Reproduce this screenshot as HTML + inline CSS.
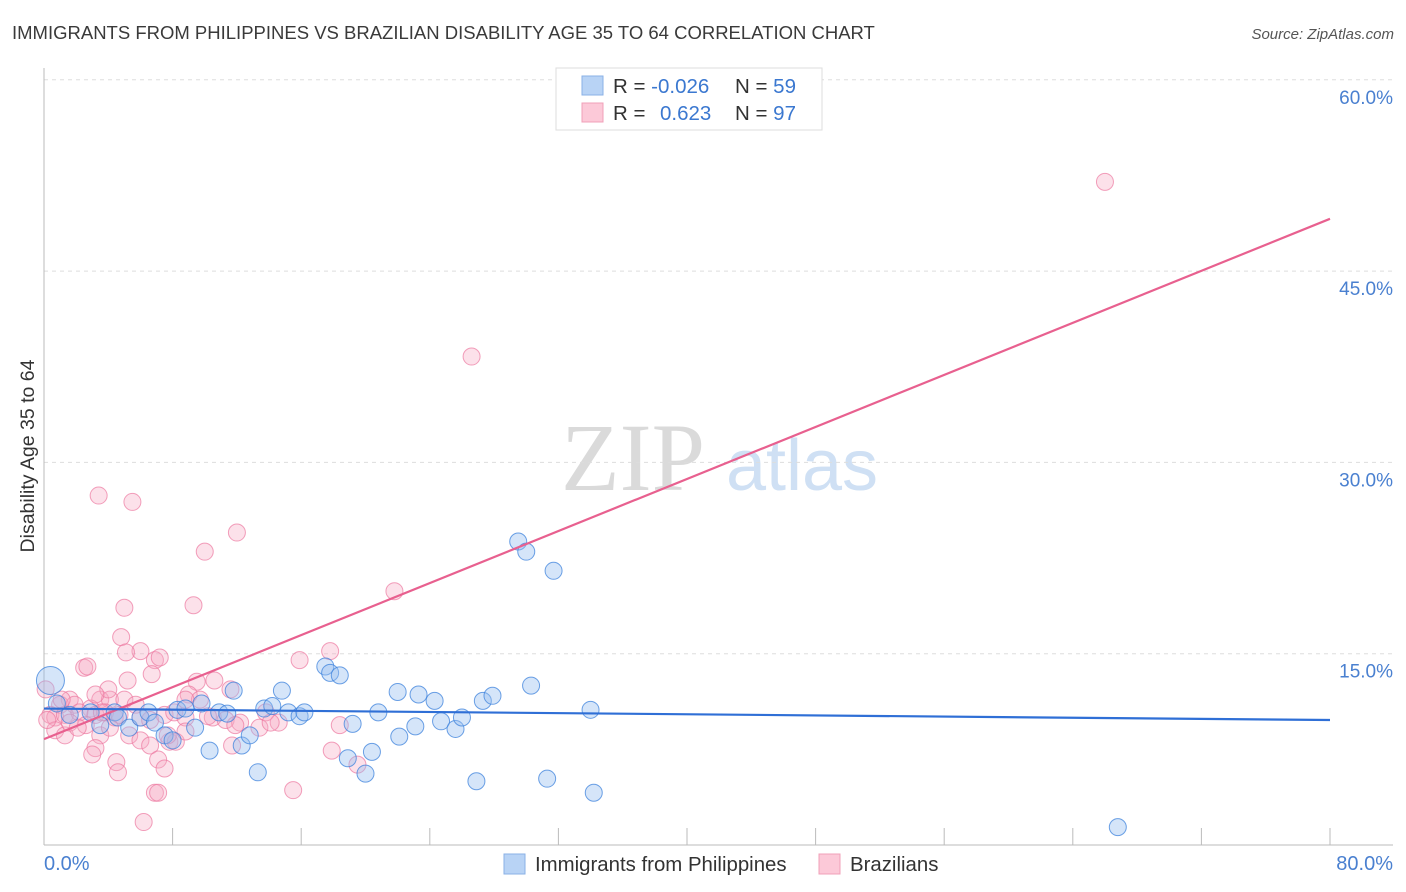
<!DOCTYPE html>
<html><head><meta charset="utf-8"><style>
body{margin:0;background:#fff;font-family:"Liberation Sans",sans-serif}
svg{display:block}
</style></head><body>
<svg id="chart" width="1406" height="892">
<text x="12" y="39" font-size="18.5" fill="#3a3a3a">IMMIGRANTS FROM PHILIPPINES VS BRAZILIAN DISABILITY AGE 35 TO 64 CORRELATION CHART</text>
<text x="1394" y="39" font-size="15" fill="#555" font-style="italic" text-anchor="end">Source: ZipAtlas.com</text>
<g>
<text x="633" y="490" font-size="96" fill="#dadada" font-family="Liberation Serif,serif" text-anchor="middle">ZIP</text>
<text x="802" y="490" font-size="72" fill="#cfe0f4" text-anchor="middle">atlas</text>
</g>
<g id="grid"></g>
<g id="axes"></g>
<g id="pts"></g>
<g id="lines"></g>
<text transform="translate(34,456) rotate(-90)" font-size="19.5" fill="#333" text-anchor="middle">Disability Age 35 to 64</text>
<text x="44" y="870" font-size="20" fill="#4a80d0">0.0%</text>
<text x="1393" y="870" font-size="20" fill="#4a80d0" text-anchor="end">80.0%</text>
<g>
<rect x="556" y="68" width="266" height="62" fill="#fff" stroke="#ddd"/>
<rect x="582" y="76" width="21" height="19" fill="#b8d3f5" stroke="#8ab0e6"/>
<rect x="582" y="103" width="21" height="19" fill="#fcc9d8" stroke="#f0a0b8"/>
<text x="613" y="93" font-size="20.5" fill="#333">R = <tspan fill="#3b78d0">-0.026</tspan></text>
<text x="735" y="93" font-size="20.5" fill="#333">N = <tspan fill="#3b78d0">59</tspan></text>
<text x="613" y="120" font-size="20.5" fill="#333">R = </text>
<text x="660" y="120" font-size="20.5" fill="#3b78d0">0.623</text>
<text x="735" y="120" font-size="20.5" fill="#333">N = <tspan fill="#3b78d0">97</tspan></text>
</g>
<g>
<rect x="504" y="854" width="21" height="20" fill="#b8d3f5" stroke="#8ab0e6"/>
<text x="535" y="871" font-size="20.4" fill="#333">Immigrants from Philippines</text>
<rect x="819" y="854" width="21" height="20" fill="#fcc9d8" stroke="#f0a0b8"/>
<text x="850" y="871" font-size="20.4" fill="#333">Brazilians</text>
</g>
</svg>
<script>
const yTicks=[15,30,45,60];
const yTickLabels=["15.0%","30.0%","45.0%","60.0%"];
const xTicks=[0,8,16,24,32,40,48,56,64,72,80];
const blueX=[0.4,0.8,1.6,2.9,3.5,4.4,4.6,5.3,6.0,6.5,6.9,7.5,8.0,8.3,8.8,9.4,9.8,10.3,10.9,11.4,11.8,12.3,12.8,13.3,13.7,14.2,14.8,15.2,15.9,16.2,17.5,17.8,18.4,19.2,18.9,20.0,20.4,20.8,22.1,22.0,23.1,23.3,24.3,24.7,25.6,26.0,26.9,27.3,27.9,29.5,30.0,30.3,31.3,31.7,34.0,34.2,66.8];
const blueY=[12.9,11.1,10.2,10.4,9.4,10.4,10.0,9.2,10.0,10.4,9.6,8.6,8.2,10.6,10.7,9.2,11.1,7.4,10.4,10.3,12.1,7.8,8.6,5.7,10.7,10.9,12.1,10.4,10.1,10.4,14.0,13.5,13.3,9.5,6.8,5.6,7.3,10.4,8.5,12.0,9.3,11.8,11.3,9.7,9.1,10.0,5.0,11.3,11.7,23.8,23.0,12.5,5.2,21.5,10.6,4.1,1.4];
const pinkX=[66.0,26.6,3.4,5.5,12.0,10.0,21.8,9.3,5.0,4.8,17.8,15.9,6.0,6.9,5.1,7.2,2.5,2.7,6.7,5.2,9.5,10.6,11.6,9.0,1.6,3.5,4.1,5.0,5.7,1.0,1.9,2.9,0.4,0.7,1.3,2.2,3.2,3.8,4.4,4.7,6.0,6.6,7.5,8.1,8.8,10.5,11.3,12.2,13.4,14.6,0.7,1.3,2.6,3.5,4.1,5.3,6.0,6.6,7.8,8.2,11.7,17.9,19.5,3.2,3.0,4.5,4.6,7.1,7.5,6.9,7.1,6.2,15.5,18.4,4.0,0.1,0.2,3.6,7.7,8.8,10.2,11.9,13.8,1.6,2.1,9.7,1.1,3.2,8.8,14.1];
const pinkY=[52.0,38.3,27.4,26.9,24.5,23.0,19.9,18.8,18.6,16.3,15.2,14.5,15.2,14.5,15.1,14.7,13.9,14.0,13.4,12.9,12.8,12.9,12.2,11.8,11.4,11.4,11.4,11.4,11.0,11.0,11.0,10.7,10.2,10.0,10.2,10.4,10.2,10.4,10.0,10.2,10.0,9.8,10.2,10.4,10.0,10.0,9.8,9.6,9.2,9.6,9.0,8.6,9.4,8.6,9.2,8.6,8.2,7.8,8.1,8.1,7.8,7.4,6.3,7.6,7.1,6.5,5.7,6.7,6.0,4.1,4.1,1.8,4.3,9.4,12.2,12.2,9.8,10.4,8.6,8.9,10.1,9.4,10.4,9.6,9.2,11.4,11.4,11.8,11.4,9.6];
const blueTrend=[10.7,9.8];
const pinkTrend=[8.3,49.1];
const trendX=[0,80];

const NS="http://www.w3.org/2000/svg";
const X0=44,X1=1330,Y0=845,PXPER=191.3/15;
const sx=v=>X0+(v/80)*(X1-X0);
const sy=v=>Y0-v*PXPER;
function mk(tag,attrs,parent){const e=document.createElementNS(NS,tag);for(const k in attrs)e.setAttribute(k,attrs[k]);parent.appendChild(e);return e;}
const grid=document.getElementById('grid'),axes=document.getElementById('axes'),pts=document.getElementById('pts'),lines=document.getElementById('lines');
yTicks.forEach((t,i)=>{
  const l=mk('line',{x1:X0,x2:1393,y1:sy(t),y2:sy(t),stroke:'#ddd','stroke-dasharray':'4,4'},grid);
  
  
  const tx=mk('text',{x:1393,y:sy(t)+24,'font-size':19,fill:'#4a80d0','text-anchor':'end'},grid);
  tx.textContent=yTickLabels[i];
  
  
});
const ya=mk('line',{x1:X0,x2:X0,y1:68,y2:Y0,stroke:'#bbb'},axes);


const xa=mk('line',{x1:X0,x2:1393,y1:Y0,y2:Y0,stroke:'#bbb'},axes);


xTicks.forEach(t=>{
  const l=mk('line',{x1:sx(t),x2:sx(t),y1:828,y2:Y0,stroke:'#bbb'},axes);
  
  
});
pinkX.forEach((x,i)=>{
  const c=mk('circle',{cx:sx(x),cy:sy(pinkY[i]),r:8.5,fill:'rgba(246,170,196,0.35)',stroke:'rgba(236,120,160,0.7)','stroke-width':1},pts);
  
  
});
blueX.forEach((x,i)=>{
  const c=mk('circle',{cx:sx(x),cy:sy(blueY[i]),r:i===0?14:8.5,fill:'rgba(150,190,240,0.4)',stroke:'rgba(60,130,220,0.75)','stroke-width':1},pts);
  
  
});
const pl=mk('line',{x1:sx(trendX[0]),y1:sy(pinkTrend[0]),x2:sx(trendX[1]),y2:sy(pinkTrend[1]),stroke:'#e8608f','stroke-width':2.2},lines);


const bl=mk('line',{x1:sx(trendX[0]),y1:sy(blueTrend[0]),x2:sx(trendX[1]),y2:sy(blueTrend[1]),stroke:'#2f6fd6','stroke-width':2.2},lines);


</script>
</body></html>
